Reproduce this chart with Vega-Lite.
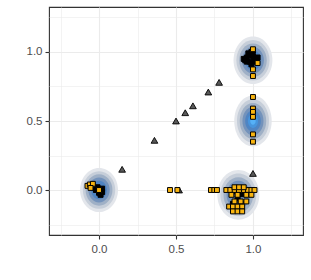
{
  "$schema": "https://vega.github.io/schema/vega-lite/v6.json",
  "width": 254,
  "height": 228,
  "autosize": {"type": "none"},
  "padding": {"left": 49, "top": 7, "right": 8, "bottom": 45},
  "config": {
    "view": {"stroke": "#333333", "strokeWidth": 1.1},
    "axis": {
      "domain": false,
      "grid": true,
      "gridColor": "#EBEBEB",
      "tickColor": "#333333",
      "tickWidth": 1.1,
      "tickSize": 4,
      "labelFont": "Liberation Sans",
      "labelFontSize": 11.5,
      "labelColor": "#4D4D4D",
      "title": null
    },
    "axisX": {"labelPadding": 4},
    "axisY": {"labelPadding": 3}
  },
  "datasets": {
    "density": [
      {"blob": "top", "x": 1.0, "y": 0.94, "level": 1},
      {"blob": "top", "x": 1.0, "y": 0.94, "level": 2},
      {"blob": "top", "x": 1.0, "y": 0.94, "level": 3},
      {"blob": "top", "x": 1.0, "y": 0.94, "level": 4},
      {"blob": "top", "x": 1.0, "y": 0.94, "level": 5},
      {"blob": "mid", "x": 1.0, "y": 0.5, "level": 1},
      {"blob": "mid", "x": 1.0, "y": 0.5, "level": 2},
      {"blob": "mid", "x": 1.0, "y": 0.5, "level": 3},
      {"blob": "mid", "x": 1.0, "y": 0.5, "level": 4},
      {"blob": "mid", "x": 1.0, "y": 0.5, "level": 5},
      {"blob": "mid", "x": 1.0, "y": 0.5, "level": 6},
      {"blob": "mid", "x": 1.0, "y": 0.5, "level": 7},
      {"blob": "bl", "x": 0.0, "y": 0.0, "level": 1},
      {"blob": "bl", "x": 0.0, "y": 0.0, "level": 2},
      {"blob": "bl", "x": 0.0, "y": 0.0, "level": 3},
      {"blob": "bl", "x": 0.0, "y": 0.0, "level": 4},
      {"blob": "bl", "x": 0.0, "y": 0.0, "level": 5},
      {"blob": "br", "x": 0.905, "y": -0.035, "level": 1},
      {"blob": "br", "x": 0.905, "y": -0.035, "level": 2},
      {"blob": "br", "x": 0.905, "y": -0.035, "level": 3},
      {"blob": "br", "x": 0.905, "y": -0.035, "level": 4}
    ],
    "points": [
      {"x": 0.15, "y": 0.15, "g": "tri"},
      {"x": 0.36, "y": 0.36, "g": "tri"},
      {"x": 0.5, "y": 0.5, "g": "tri"},
      {"x": 0.56, "y": 0.56, "g": "tri"},
      {"x": 0.61, "y": 0.61, "g": "tri"},
      {"x": 0.71, "y": 0.71, "g": "tri"},
      {"x": 0.78, "y": 0.78, "g": "tri"},
      {"x": 1.0, "y": 0.12, "g": "tri"},
      {"x": 0.52, "y": 0.0, "g": "tri"},

      {"x": 0.94, "y": 0.95, "g": "blk"},
      {"x": 0.95, "y": 0.94, "g": "blk"},
      {"x": 0.96, "y": 0.96, "g": "blk"},
      {"x": 0.97, "y": 0.99, "g": "blk"},
      {"x": 0.98, "y": 0.98, "g": "blk"},
      {"x": 0.99, "y": 1.0, "g": "blk"},
      {"x": 1.0, "y": 0.97, "g": "blk"},
      {"x": 0.98, "y": 0.93, "g": "blk"},
      {"x": 1.01, "y": 0.95, "g": "blk"},
      {"x": 1.02, "y": 0.93, "g": "blk"},
      {"x": 1.03, "y": 0.96, "g": "blk"},
      {"x": 0.99, "y": 0.91, "g": "blk"},
      {"x": 0.96, "y": 0.93, "g": "blk"},
      {"x": 1.0, "y": 1.01, "g": "blk"},
      {"x": -0.02, "y": 0.0, "g": "blk"},
      {"x": 0.0, "y": -0.02, "g": "blk"},
      {"x": 0.02, "y": -0.015, "g": "blk"},
      {"x": 0.01, "y": -0.035, "g": "blk"},
      {"x": -0.01, "y": 0.02, "g": "blk"},
      {"x": 0.02, "y": 0.01, "g": "blk"},
      {"x": 0.88, "y": -0.01, "g": "blk"},
      {"x": 0.9, "y": -0.06, "g": "blk"},
      {"x": 0.92, "y": -0.1, "g": "blk"},
      {"x": 0.87, "y": -0.1, "g": "blk"},
      {"x": 0.93, "y": -0.03, "g": "blk"},
      {"x": 0.9, "y": -0.13, "g": "blk"},

      {"x": 1.0, "y": 0.674, "g": "sq"},
      {"x": 1.0, "y": 0.59, "g": "sq"},
      {"x": 1.0, "y": 0.566, "g": "sq"},
      {"x": 1.0, "y": 0.53, "g": "sq"},
      {"x": 1.0, "y": 0.403, "g": "sq"},
      {"x": 1.0, "y": 0.35, "g": "sq"},
      {"x": 1.0, "y": 1.02, "g": "sq"},
      {"x": 1.03, "y": 0.92, "g": "sq"},
      {"x": 1.0, "y": 0.874, "g": "sq"},
      {"x": 1.0, "y": 0.826, "g": "sq"},
      {"x": 0.461, "y": 0.0, "g": "sq"},
      {"x": 0.509, "y": 0.0, "g": "sq"},
      {"x": 0.727, "y": 0.0, "g": "sq"},
      {"x": 0.749, "y": 0.0, "g": "sq"},
      {"x": 0.766, "y": 0.0, "g": "sq"},
      {"x": -0.075, "y": 0.03, "g": "sq"},
      {"x": -0.06, "y": 0.04, "g": "sq"},
      {"x": -0.04, "y": 0.045, "g": "sq"},
      {"x": -0.055, "y": 0.015, "g": "sq"},
      {"x": 0.0, "y": 0.0, "g": "sq"},
      {"x": 0.827, "y": 0.0, "g": "sq"},
      {"x": 0.853, "y": 0.0, "g": "sq"},
      {"x": 0.881, "y": 0.0, "g": "sq"},
      {"x": 0.909, "y": 0.0, "g": "sq"},
      {"x": 0.942, "y": 0.0, "g": "sq"},
      {"x": 0.968, "y": 0.0, "g": "sq"},
      {"x": 0.99, "y": 0.0, "g": "sq"},
      {"x": 1.01, "y": 0.0, "g": "sq"},
      {"x": 0.88, "y": 0.02, "g": "sq"},
      {"x": 0.91, "y": 0.02, "g": "sq"},
      {"x": 0.94, "y": 0.02, "g": "sq"},
      {"x": 0.86, "y": -0.035, "g": "sq"},
      {"x": 0.9, "y": -0.035, "g": "sq"},
      {"x": 0.957, "y": -0.035, "g": "sq"},
      {"x": 0.99, "y": -0.035, "g": "sq"},
      {"x": 0.88, "y": -0.083, "g": "sq"},
      {"x": 0.92, "y": -0.083, "g": "sq"},
      {"x": 0.957, "y": -0.083, "g": "sq"},
      {"x": 0.845, "y": -0.12, "g": "sq"},
      {"x": 0.87, "y": -0.12, "g": "sq"},
      {"x": 0.9, "y": -0.12, "g": "sq"},
      {"x": 0.93, "y": -0.12, "g": "sq"},
      {"x": 0.87, "y": -0.155, "g": "sq"},
      {"x": 0.9, "y": -0.155, "g": "sq"},
      {"x": 0.93, "y": -0.155, "g": "sq"}
    ]
  },
  "encoding": {
    "x": {
      "field": "x", "type": "quantitative",
      "scale": {"domain": [-0.325, 1.325], "nice": false, "zero": false},
      "axis": {
        "values": [-0.25, 0, 0.25, 0.5, 0.75, 1, 1.25],
        "labelExpr": "abs(datum.value * 4) % 2 == 1 ? '' : format(datum.value, '.1f')",
        "gridWidth": {"condition": {"test": "abs(datum.value * 4) % 2 == 1", "value": 0.6}, "value": 1.1},
        "tickOpacity": {"condition": {"test": "abs(datum.value * 4) % 2 == 1", "value": 0}, "value": 1}
      }
    },
    "y": {
      "field": "y", "type": "quantitative",
      "scale": {"domain": [-0.326, 1.326], "nice": false, "zero": false},
      "axis": {
        "values": [-0.25, 0, 0.25, 0.5, 0.75, 1, 1.25],
        "labelExpr": "abs(datum.value * 4) % 2 == 1 ? '' : format(datum.value, '.1f')",
        "gridWidth": {"condition": {"test": "abs(datum.value * 4) % 2 == 1", "value": 0.6}, "value": 1.1},
        "tickOpacity": {"condition": {"test": "abs(datum.value * 4) % 2 == 1", "value": 0}, "value": 1}
      }
    }
  },
  "layer": [
    {
      "data": {"name": "density"},
      "mark": {"type": "point", "filled": true, "opacity": 1, "strokeWidth": 0},
      "encoding": {
        "shape": {
          "field": "blob", "type": "nominal", "legend": null,
          "scale": {
            "domain": ["top", "mid", "bl", "br"],
            "range": [
              "M0,-0.99C0.447,-0.99 0.81,-0.547 0.81,0C0.81,0.547 0.447,0.99 0,0.99C-0.447,0.99 -0.81,0.547 -0.81,0C-0.81,-0.547 -0.447,-0.99 0,-0.99Z",
              "M0,-1.06C0.431,-1.06 0.78,-0.585 0.78,0C0.78,0.585 0.431,1.06 0,1.06C-0.431,1.06 -0.78,0.585 -0.78,0C-0.78,-0.585 -0.431,-1.06 0,-1.06Z",
              "M0,-0.92C0.436,-0.92 0.79,-0.508 0.79,0C0.79,0.508 0.436,0.92 0,0.92C-0.436,0.92 -0.79,0.508 -0.79,0C-0.79,-0.508 -0.436,-0.92 0,-0.92Z",
              "M0,-1.04C0.483,-1.04 0.875,-0.574 0.875,0C0.875,0.574 0.483,1.04 0,1.04C-0.483,1.04 -0.875,0.574 -0.875,0C-0.875,-0.574 -0.483,-1.04 0,-1.04Z"
            ]
          }
        },
        "size": {
          "field": "level", "type": "quantitative", "legend": null,
          "scale": {"type": "threshold", "domain": [1.5, 2.5, 3.5, 4.5, 5.5, 6.5], "range": [2304, 1681, 1156, 729, 400, 169, 49]}
        },
        "fill": {
          "field": "level", "type": "ordinal", "legend": null,
          "scale": {"domain": [1, 2, 3, 4, 5, 6, 7], "range": ["#E3E6EB", "#C6CED9", "#9FB0C6", "#7392BB", "#4F84C2", "#4795DD", "#56B1F7"]}
        }
      }
    },
    {
      "data": {"name": "points"},
      "transform": [{"filter": "datum.g == 'tri'"}],
      "mark": {"type": "point", "shape": "triangle-up", "filled": true, "fill": "#595959", "stroke": "#000000", "strokeWidth": 0.9, "size": 45, "opacity": 1}
    },
    {
      "data": {"name": "points"},
      "transform": [{"filter": "datum.g == 'blk'"}],
      "mark": {"type": "point", "shape": "square", "filled": true, "fill": "#000000", "stroke": "#000000", "strokeWidth": 1, "size": 25, "opacity": 1}
    },
    {
      "data": {"name": "points"},
      "transform": [{"filter": "datum.g == 'sq'"}],
      "mark": {"type": "point", "shape": "square", "filled": true, "fill": "#F9B510", "stroke": "#000000", "strokeWidth": 1, "size": 24, "opacity": 1}
    }
  ]
}
